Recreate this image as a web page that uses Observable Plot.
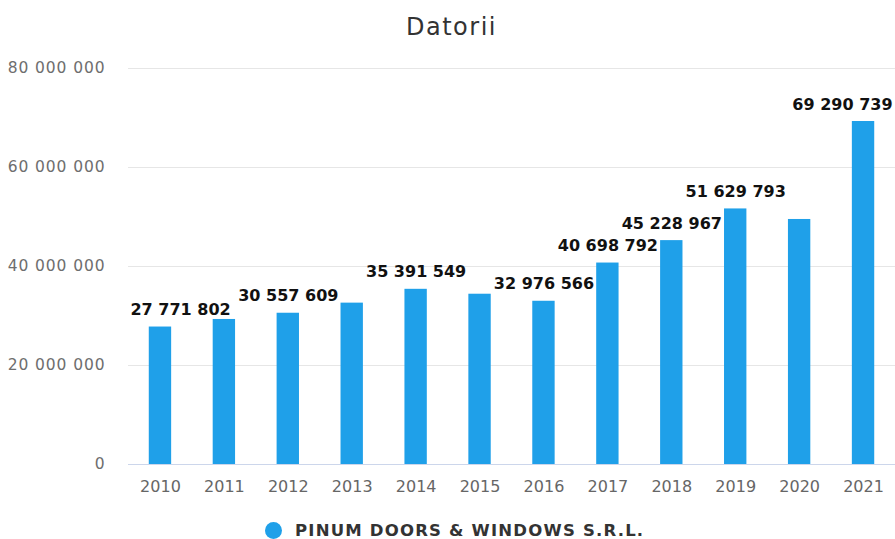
<!DOCTYPE html>
<html>
<head>
<meta charset="utf-8">
<script src="https://cdn.jsdelivr.net/npm/d3@7"></script>
<script src="https://cdn.jsdelivr.net/npm/@observablehq/plot@0.6"></script>
<style>
  html, body { margin: 0; padding: 0; background: #fff; overflow: hidden; }
  body { width: 895px; height: 539px; position: relative; font-family: "DejaVu Sans", sans-serif; }
  #title { height: 50px; line-height: 54px; text-align: center; font-size: 24px; letter-spacing: 1.5px; color: #333; padding-left: 8px; }
  #legend { position: absolute; left: 265px; top: 521px; display: flex; align-items: center; font-weight: bold; font-size: 16.5px; letter-spacing: 1.2px; color: #333; }
  #legend .dot { width: 17px; height: 17px; border-radius: 50%; background: #1fa0e9; margin-right: 13px; }
  svg { display: block; }
  g[aria-label="y-axis tick label"] text { letter-spacing: 0.9px; }
</style>
</head>
<body>
<div id="title">Datorii</div>
<div id="chart"></div>
<div id="legend"><span class="dot"></span><span>PINUM DOORS &amp; WINDOWS S.R.L.</span></div>
<script>
const years = ["2010","2011","2012","2013","2014","2015","2016","2017","2018","2019","2020","2021"];
const values = [27771802, 29300000, 30557609, 32600000, 35391549, 34400000, 32976566, 40698792, 45228967, 51629793, 49500000, 69290739];
const labels = ["27 771 802", "", "30 557 609", "", "35 391 549", "", "32 976 566", "40 698 792", "45 228 967", "51 629 793", "", "69 290 739"];
const yTicks = [0, 20000000, 40000000, 60000000, 80000000];
const seriesName = "PINUM DOORS & WINDOWS S.R.L.";
const barColor = "#1fa0e9";

const data = years.map((y, i) => ({year: y, value: values[i], label: labels[i]}));
const fmt = d => d3.format(",")(d).replace(/,/g, " ");
const first = data.slice(0, 1);
const last = data.slice(-1);
const middle = data.slice(1, -1).filter(d => d.label);
const lbl = {x: "year", y: "value", text: "label", dy: -17, lineAnchor: "middle", fontWeight: "bold", fontSize: 16, fill: "#111"};

const chart = Plot.plot({
  width: 895,
  height: 462,
  marginTop: 18,
  marginBottom: 48,
  marginLeft: 128,
  marginRight: 0,
  style: {fontFamily: "DejaVu Sans, sans-serif", background: "#fff"},
  x: {domain: years, paddingInner: 0.65, paddingOuter: 0.325, round: false, label: null},
  y: {domain: [0, 80000000], label: null},
  marks: [
    Plot.ruleY(yTicks.slice(1), {stroke: "#e6e6e6", strokeWidth: 1}),
    Plot.barY(data, {x: "year", y: "value", fill: barColor}),
    Plot.ruleY([0], {stroke: "#ccd6eb", strokeWidth: 1}),
    Plot.axisY({ticks: yTicks, tickFormat: fmt, tickSize: 0, tickPadding: 23, fontSize: 15.5, fill: "#6e6e6e", label: null}),
    Plot.axisX({tickSize: 0, tickPadding: 16, fontSize: 16, fill: "#666", label: null}),
    Plot.text(middle, lbl),
    Plot.text(first, {...lbl, dx: -30, textAnchor: "start"}),
    Plot.text(last, {...lbl, dx: 29, textAnchor: "end"})
  ]
});
document.getElementById("chart").appendChild(chart);
</script>
</body>
</html>
